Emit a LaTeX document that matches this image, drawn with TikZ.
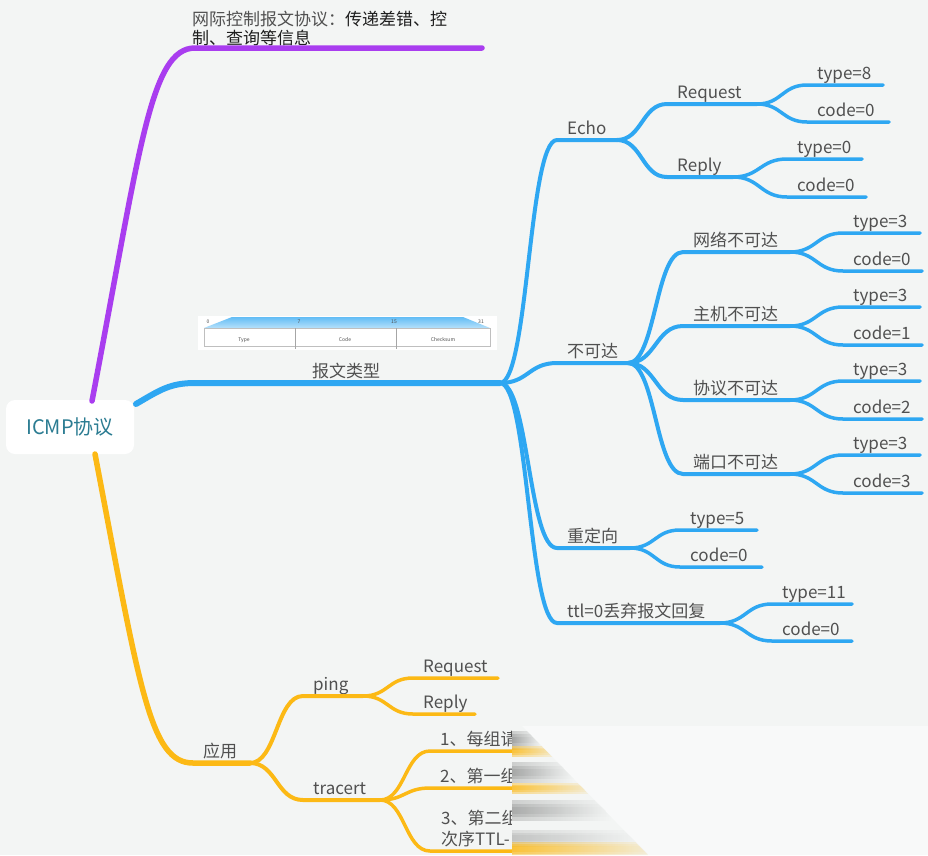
\documentclass[tikz,border=0pt]{standalone}
\usepackage{fontspec}
\setmainfont{Noto Sans CJK SC}
\usetikzlibrary{calc}
\definecolor{bg}{HTML}{F3F5F4}
\definecolor{pur}{HTML}{A93DEF}
\definecolor{blu}{HTML}{2EA7F2}
\definecolor{yel}{HTML}{FCB915}
\definecolor{txt}{HTML}{505050}
\definecolor{dark}{HTML}{1E1E1E}
\definecolor{rootc}{HTML}{2B7C92}
\tikzset{
  lbl/.style={anchor=base west, inner sep=0pt, text=txt, font=\fontsize{17}{21}\selectfont},
  br/.style={line cap=round, line join=round},
  wa/.style={line width=5.5pt},
  wb/.style={line width=4pt},
  wc/.style={line width=3.5pt},
  rootbox/.style={fill=white, rounded corners=9pt, minimum width=128pt, minimum height=54pt,
    inner sep=0pt, text=rootc, font=\fontsize{20}{24}\selectfont},
  tiny/.style={inner sep=0pt, font=\fontsize{5}{6}\selectfont, text=black!70},
}
% name, x start, x end, y, text
\newcommand\mmtopic[5]{%
  \coordinate (#1S) at (#2,#4);
  \coordinate (#1E) at (#3,#4);
  \node[lbl] (#1) at ($(#1S)+(10,-6)$) {#5};}
% connector from parent end to child line
\newcommand\mmlink[4][]{%
  \draw[br,#1] let \p1=(#2), \p2=(#3) in
    (#2) .. controls ({0.5*\x1+0.5*\x2},\y1) and ({0.5*\x1+0.5*\x2},\y2) .. (#3) -- (#4);}
\begin{document}
\begin{tikzpicture}[x=1pt,y=-1pt]
\fill[bg] (0,0) rectangle (928,855);
\useasboundingbox (0,0) rectangle (928,855);

% ---------- root ----------
\node[rootbox] (root) at (70,427) {ICMP协议};
\coordinate (rootP) at (92,401);
\coordinate (rootB) at (136,404);
\coordinate (rootY) at (95,454);

% ---------- purple branch ----------
\coordinate (descS) at (195,48);
\coordinate (descE) at (482,48);
\node[lbl, align=left, font=\fontsize{17}{19}\selectfont] (desc) at (192,44)
  {\textcolor{txt}{网际控制报文协议：}\textcolor{dark}{传递差错、控}\\\textcolor{dark}{制、查询等信息}};
\draw[br, wa, pur] (rootP) .. controls (140,150) and (150,48) .. (descS) -- (descE);

% ---------- blue branch ----------
\coordinate (typeS) at (195,383);
\coordinate (typeE) at (500,383);
\node[lbl] (types) at (312,377) {报文类型};
\draw[br, line width=6pt, blu] (rootB) .. controls (160,390) and (170,383) .. (typeS) -- (typeE);

% header picture
\fill[white] (198,316) rectangle (497,350);
\shade[top color=blu!75, bottom color=blu!35] (204,328) -- (232,317) -- (463,317) -- (490,328) -- cycle;
\draw[black!25, line width=0.6pt] (204,328) rectangle (490,346);
\draw[black!35, line width=0.6pt] (295,328) -- (295,349) (396,328) -- (396,349);
\node[tiny] (h0) at (208,321.5) {0};
\node[tiny] (h7) at (299,321.5) {7};
\node[tiny] (h15) at (394,321.5) {15};
\node[tiny] (h31) at (481,321.5) {31};
\node[tiny] (hType) at (244,340) {Type};
\node[tiny] (hCode) at (345,340) {Code};
\node[tiny] (hChk) at (443,340) {Checksum};

\mmtopic{echo}{557}{617}{140}{Echo}
\mmtopic{unr}{557}{628}{363}{不可达}
\mmtopic{redir}{557}{630}{548}{重定向}
\mmtopic{ttl}{557}{720}{623}{ttl=0丢弃报文回复}
\foreach \c in {echo,unr,redir,ttl}{\mmlink[blu,wb]{typeE}{\c S}{\c E}}

\mmtopic{ereq}{667}{757}{104}{Request}
\mmtopic{erep}{667}{733}{177}{Reply}
\mmlink[blu,wb]{echoE}{ereqS}{ereqE}
\mmlink[blu,wb]{echoE}{erepS}{erepE}
\mmtopic{ereqT}{807}{883}{85}{type=8}
\mmtopic{ereqC}{807}{889}{122}{code=0}
\mmtopic{erepT}{787}{862}{159}{type=0}
\mmtopic{erepC}{787}{866}{197}{code=0}
\mmlink[blu,wc]{ereqE}{ereqTS}{ereqTE}
\mmlink[blu,wc]{ereqE}{ereqCS}{ereqCE}
\mmlink[blu,wc]{erepE}{erepTS}{erepTE}
\mmlink[blu,wc]{erepE}{erepCS}{erepCE}

\mmtopic{net}{683}{790}{252}{网络不可达}
\mmtopic{host}{683}{790}{326}{主机不可达}
\mmtopic{proto}{683}{790}{400}{协议不可达}
\mmtopic{port}{683}{790}{474}{端口不可达}
\foreach \c in {net,host,proto,port}{\mmlink[blu,wb]{unrE}{\c S}{\c E}}
\mmtopic{netT}{843}{920}{233}{type=3}
\mmtopic{netC}{843}{922}{271}{code=0}
\mmtopic{hostT}{843}{920}{307}{type=3}
\mmtopic{hostC}{843}{922}{345}{code=1}
\mmtopic{protoT}{843}{920}{381}{type=3}
\mmtopic{protoC}{843}{922}{419}{code=2}
\mmtopic{portT}{843}{920}{455}{type=3}
\mmtopic{portC}{843}{922}{493}{code=3}
\foreach \c in {net,host,proto,port}{%
  \mmlink[blu,wc]{\c E}{\c TS}{\c TE}
  \mmlink[blu,wc]{\c E}{\c CS}{\c CE}}

\mmtopic{rdT}{680}{757}{530}{type=5}
\mmtopic{rdC}{680}{762}{567}{code=0}
\mmlink[blu,wc]{redirE}{rdTS}{rdTE}
\mmlink[blu,wc]{redirE}{rdCS}{rdCE}
\mmtopic{tlT}{772}{852}{604}{type=11}
\mmtopic{tlC}{772}{852}{641}{code=0}
\mmlink[blu,wc]{ttlE}{tlTS}{tlTE}
\mmlink[blu,wc]{ttlE}{tlCS}{tlCE}

% ---------- yellow branch ----------
\mmtopic{app}{193}{250}{763}{应用}
\draw[br, wa, yel] (rootY) .. controls (140,690) and (150,763) .. (appS) -- (appE);
\mmtopic{ping}{303}{363}{696}{ping}
\mmtopic{trc}{303}{380}{800}{tracert}
\mmlink[yel,wb]{appE}{pingS}{pingE}
\mmlink[yel,wb]{appE}{trcS}{trcE}
\mmtopic{preq}{413}{498}{678}{Request}
\mmtopic{prep}{413}{475}{714}{Reply}
\mmlink[yel,wc]{pingE}{preqS}{preqE}
\mmlink[yel,wc]{pingE}{prepS}{prepE}
\mmtopic{tA}{430}{600}{751}{1、每组请}
\mmtopic{tB}{430}{600}{788}{2、第一组}
\coordinate (tCS) at (430,851);
\coordinate (tCE) at (600,851);
\node[lbl, align=left] (tC) at (441,845) {3、第二组\\次序TTL-};
\mmlink[yel,wc]{trcE}{tAS}{tAE}
\mmlink[yel,wc]{trcE}{tBS}{tBE}
\mmlink[yel,wc]{trcE}{tCS}{tCE}

% ---------- blurred corner ----------
\fill[bg!55!white] (512,726) -- (928,726) -- (928,855) -- (512,855) -- cycle;
\begin{scope}
  \clip (512,726) -- (522,726) -- (648,855) -- (512,855) -- cycle;
  \fill[bg] (512,726) rectangle (650,855);
  % gray smears of the text rows
  \foreach \yy/\ww/\cc in {740/9/42, 772/10/40, 810/10/38, 838/8/25}{
    \foreach \k in {1,0.6,0.3}{
      \shade[opacity=0.4, left color=black!\cc!bg, right color=bg]
        (512,\yy-\k*\ww) rectangle ({512+(\yy-726)+15},\yy+\k*\ww);}}
  % yellow smears of the branch lines
  \foreach \yy/\ww in {751/5, 788/5, 849/7}{
    \foreach \k in {1,0.6,0.3}{
      \shade[opacity=0.45, left color=yel, right color=yel!10!bg]
        (512,\yy-\k*\ww) rectangle ({512+(\yy-726)+25},\yy+\k*\ww);}}
\end{scope}
\end{tikzpicture}
\end{document}
